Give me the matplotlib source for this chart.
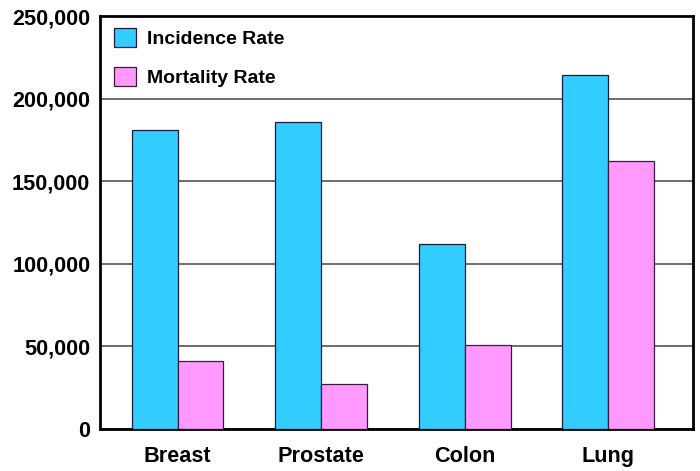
import numpy as np
import matplotlib
matplotlib.use("Agg")
import matplotlib.pyplot as plt
from matplotlib.ticker import FuncFormatter

plt.rcParams['font.family'] = ['Liberation Sans', 'DejaVu Sans']

cancers = ["Breast", "Prostate", "Colon", "Lung"]
incidence = [181000, 186000, 112000, 214000]
mortality = [41000, 27000, 51000, 162000]
y_ticks = [0, 50000, 100000, 150000, 200000, 250000]

fig = plt.figure(figsize=(7.0, 4.71), dpi=100)
ax = fig.add_axes([100 / 700, 42 / 471, 593 / 700, 413 / 471])

x = np.arange(len(cancers))
w = 0.32
ax.bar(x - w / 2, incidence, w, color="#33CCFF", edgecolor="#1a1a3a",
       linewidth=0.9, label="Incidence Rate", zorder=3)
ax.bar(x + w / 2, mortality, w, color="#FF99FF", edgecolor="#3a1a3a",
       linewidth=0.9, label="Mortality Rate", zorder=3)

ax.set_xlim(-0.54, 3.59)
ax.set_ylim(0, 250000)
ax.set_yticks(y_ticks)
ax.yaxis.set_major_formatter(FuncFormatter(lambda v, p: f"{int(v):,}"))
ax.set_xticks(x)
ax.set_xticklabels(cancers)

ax.yaxis.grid(True, color="#555555", linewidth=1.2, zorder=0)
ax.set_axisbelow(True)
ax.tick_params(axis="both", length=0, labelsize=15.6)
ax.tick_params(axis="y", pad=7)
ax.tick_params(axis="x", pad=12)
for lab in ax.get_xticklabels() + ax.get_yticklabels():
    lab.set_fontweight("bold")

for s in ax.spines.values():
    s.set_linewidth(2)
    s.set_color("black")

leg = ax.legend(loc="upper left", bbox_to_anchor=(114 / 700, 1 - 28 / 471),
                bbox_transform=fig.transFigure, frameon=False,
                prop={"size": 14, "weight": "bold"},
                handlelength=1.15, handleheight=1.15, handletextpad=0.55,
                labelspacing=0.95, borderpad=0, borderaxespad=0)

fig.savefig("out.png", dpi=100)
